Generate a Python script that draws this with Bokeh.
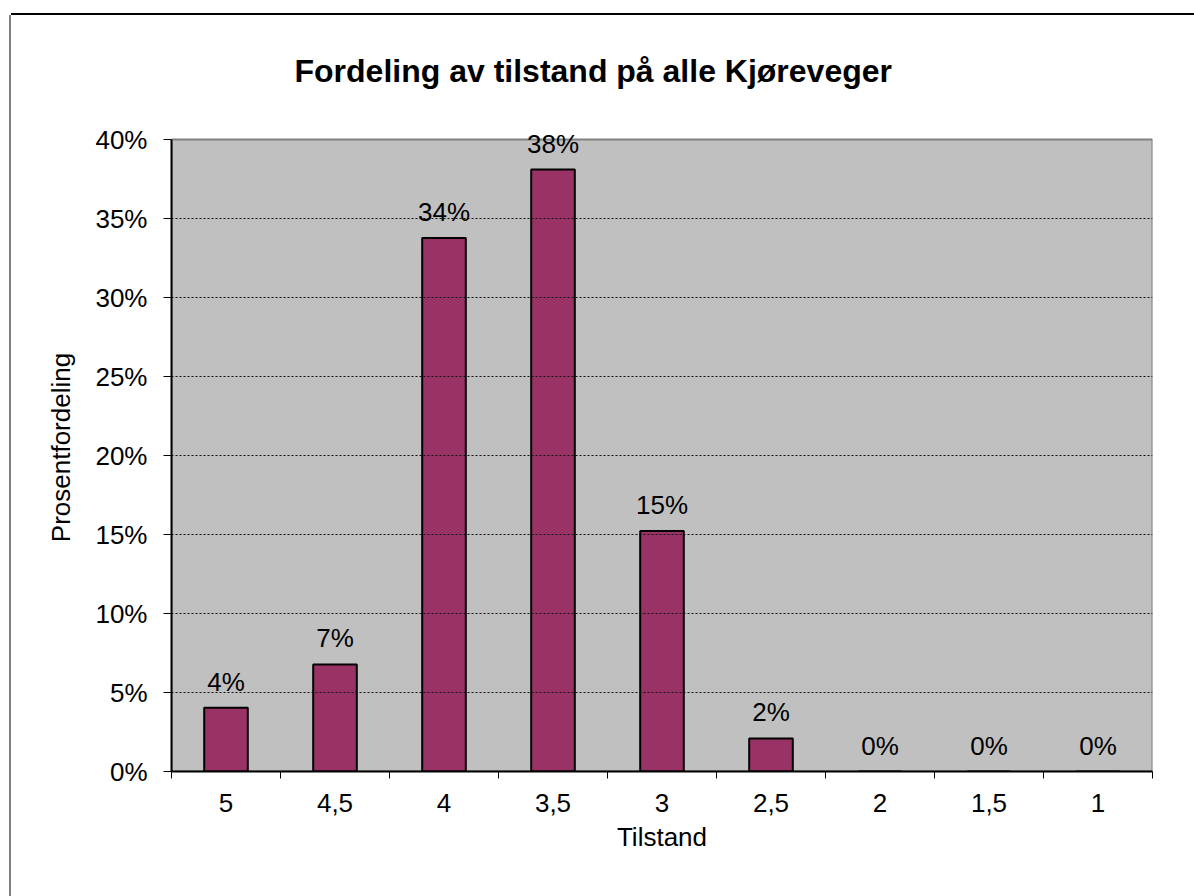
from bokeh.plotting import figure
from bokeh.models import (Range1d, FixedTicker, NumeralTickFormatter, LabelSet,
                          ColumnDataSource, BoxAnnotation)
from bokeh.core.properties import value
from bokeh.embed import file_html
from bokeh.resources import INLINE

# ---- data ----
categories = ["5", "4,5", "4", "3,5", "3", "2,5", "2", "1,5", "1"]
values = [0.0404, 0.0678, 0.3377, 0.3810, 0.1523, 0.0209, 0.0, 0.0, 0.0]
y_ticks = [0.0, 0.05, 0.10, 0.15, 0.20, 0.25, 0.30, 0.35, 0.40]

title_text = "Fordeling av tilstand på alle Kjøreveger"
x_label = "Tilstand"
y_label = "Prosentfordeling"

FONT = "Liberation Sans"

n = len(categories)
y_max = y_ticks[-1]
centers = [i + 0.5 for i in range(n)]
bounds = [float(i) for i in range(n + 1)]
labels = [f"{round(v * 100)}%" for v in values]

src = ColumnDataSource(dict(x=centers, top=values, lab=labels))

# y range slightly above 40% so the top value label is not clipped
p = figure(width=1190, height=881, output_backend="svg", toolbar_location=None,
           x_range=Range1d(0, n), y_range=Range1d(0, y_max * 1.0254),
           min_border_left=160, min_border_right=49, min_border_top=100,
           min_border_bottom=125,
           styles={"margin-top": "15px", "margin-left": "11px",
                   "box-shadow": "0 -2px 0 0 #000000, -2px 0 0 0 #808080"})

p.background_fill_color = "white"
p.border_fill_color = "white"
p.outline_line_color = None

# grey plot area (0 .. 40%)
p.add_layout(BoxAnnotation(left=0, right=n, bottom=0, top=y_max,
                           fill_color="#C0C0C0", fill_alpha=1.0,
                           line_color="#808080", line_alpha=1.0, line_width=2,
                           line_dash="solid", level="underlay"))

# title
p.title.text = title_text
p.title.text_font = FONT
p.title.text_font_size = "32px"
p.title.text_font_style = "bold"
p.title.text_color = "black"
p.title.align = "left"
p.title.offset = 123
p.title.standoff = 70

# grid (drawn before the bars, above the grey area)
p.xgrid.visible = False
p.ygrid.ticker = FixedTicker(ticks=y_ticks[1:-1])
p.ygrid.grid_line_color = "#101010"
p.ygrid.grid_line_dash = "2 2"
p.ygrid.grid_line_width = 1
p.ygrid.level = "glyph"

# bars
p.vbar(x="x", top="top", width=0.4, source=src, fill_color="#993366",
       line_color="black", line_width=2)

# value labels
p.add_layout(LabelSet(x="x", y="top", text="lab", source=src,
                      text_align="center", text_baseline="alphabetic",
                      y_offset=17, text_font=value(FONT),
                      text_font_size=value("26px"), text_color="black"))

# y axis
yax = p.yaxis[0]
yax.ticker = FixedTicker(ticks=y_ticks)
yax.bounds = (0, y_max)
yax.formatter = NumeralTickFormatter(format="0%")
yax.major_tick_in = 0
yax.major_tick_out = 8
yax.minor_tick_in = 0
yax.minor_tick_out = 0
yax.major_tick_line_color = "black"
yax.axis_line_color = "black"
yax.axis_line_width = 2
yax.major_label_text_font = FONT
yax.major_label_text_font_size = "26px"
yax.major_label_text_color = "black"
yax.major_label_standoff = 16
yax.axis_label = y_label
yax.axis_label_text_font = FONT
yax.axis_label_text_font_size = "26px"
yax.axis_label_text_font_style = "normal"
yax.axis_label_text_color = "black"
yax.axis_label_standoff = 16

# x axis
xax = p.xaxis[0]
xax.ticker = FixedTicker(ticks=centers, minor_ticks=bounds)
xax.major_label_overrides = {c: lab for c, lab in zip(centers, categories)}
xax.major_tick_in = 0
xax.major_tick_out = 0
xax.minor_tick_in = 0
xax.minor_tick_out = 7
xax.minor_tick_line_color = "black"
xax.axis_line_color = "black"
xax.axis_line_width = 2
xax.major_label_text_font = FONT
xax.major_label_text_font_size = "26px"
xax.major_label_text_color = "black"
xax.major_label_standoff = 15
xax.axis_label = x_label
xax.axis_label_text_font = FONT
xax.axis_label_text_font_size = "26px"
xax.axis_label_text_font_style = "normal"
xax.axis_label_text_color = "black"
xax.axis_label_standoff = 7

open("out.html", "w").write(file_html(p, INLINE))
